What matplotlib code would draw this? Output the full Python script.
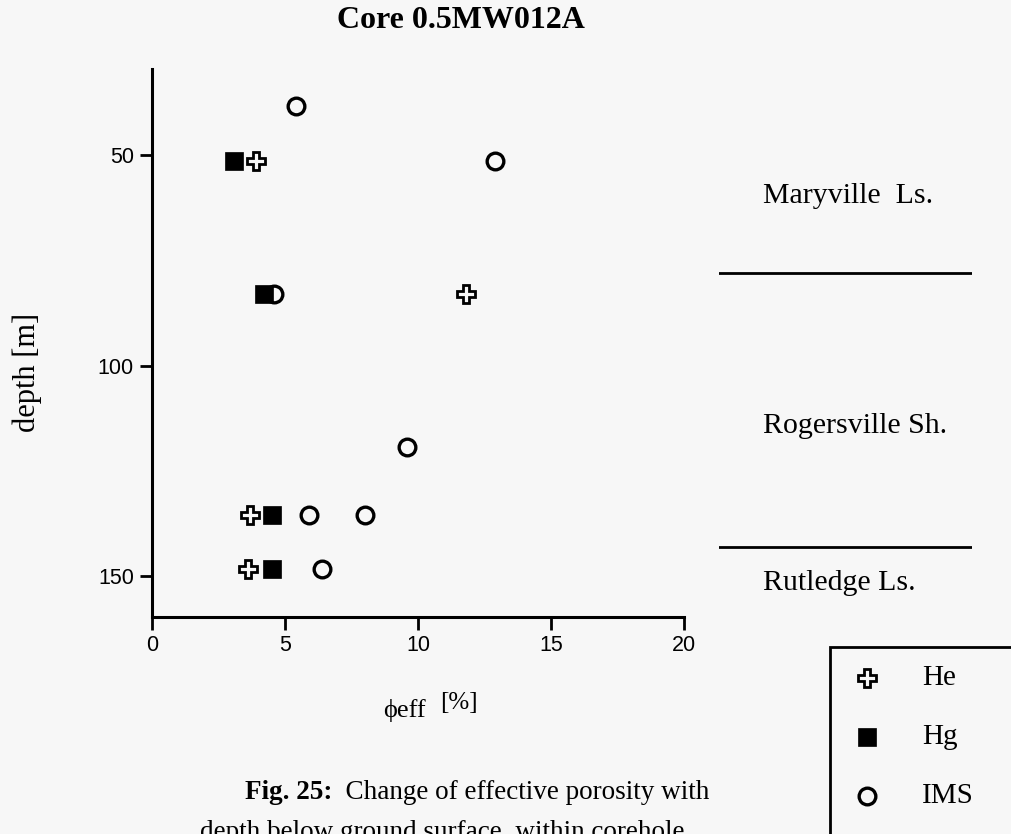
import matplotlib
matplotlib.use("Agg")
import matplotlib.pyplot as plt
from matplotlib.lines import Line2D
from matplotlib.patches import Rectangle

# Effective porosity (%) against depth below ground surface (m)
he_depth = [51.5, 83.0, 135.5, 148.2]
he_phi = [3.9, 11.8, 3.7, 3.6]

hg_depth = [51.5, 83.0, 135.5, 148.2]
hg_phi = [3.1, 4.2, 4.5, 4.5]

ims_depth = [38.5, 51.5, 83.0, 119.3, 135.5, 135.5, 148.2]
ims_phi = [5.4, 12.9, 4.6, 9.6, 5.9, 8.0, 6.4]

# Stratigraphy of the core
formations = ["Maryville  Ls.", "Rogersville Sh.", "Rutledge Ls."]
formation_label_depth = [59.7, 114.3, 151.7]
formation_boundaries = [78.0, 143.0]

x_ticks = [0, 5, 10, 15, 20]
y_ticks = [50, 100, 150]

series_labels = ["He", "Hg", "IMS"]

BG = "#f7f7f7"
SERIF = ["Liberation Serif", "DejaVu Serif"]
SANS = ["Liberation Sans", "DejaVu Sans"]

W, H = 1012, 834
fig = plt.figure(figsize=(W / 100, H / 100), dpi=100, facecolor=BG)


def fx(px):
    return px / W


def fy(py):
    return 1 - py / H


styles = {
    "He": dict(marker="P", ms=13.5, mfc=BG, mec="k", mew=2.0, ls="none"),
    "Hg": dict(marker="s", ms=13, mfc="k", mec="k", mew=0.5, ls="none"),
    "IMS": dict(marker="o", ms=12, mfc="none", mec="k", mew=2.4, ls="none"),
}

ax = fig.add_axes([fx(152), fy(617), fx(684) - fx(152), fy(69) - fy(617)])
ax.set_facecolor(BG)
ax.set_xlim(0, 20)
ax.set_ylim(159.7, 29.6)

ax.plot(ims_phi, ims_depth, zorder=3, **styles["IMS"])
ax.plot(he_phi, he_depth, zorder=4, **styles["He"])
ax.plot(hg_phi, hg_depth, zorder=5, **styles["Hg"])

for side in ("top", "right"):
    ax.spines[side].set_visible(False)
for side in ("left", "bottom"):
    ax.spines[side].set_linewidth(2.2)
ax.set_xticks(x_ticks)
ax.set_yticks(y_ticks)
ax.tick_params(direction="out", length=9, width=2, pad=4, labelsize=15.5)
for lab in ax.get_xticklabels() + ax.get_yticklabels():
    lab.set_family(SANS)

# Formation column on the right, sharing the depth scale
ax2 = fig.add_axes([fx(719), fy(617), fx(972) - fx(719), fy(69) - fy(617)])
ax2.set_ylim(ax.get_ylim())
ax2.set_xlim(0, 1)
ax2.axis("off")
for b in formation_boundaries:
    ax2.plot([0, 1], [b, b], color="k", lw=2)
for name, d in zip(formations, formation_label_depth):
    ax2.text(0.174, d, name, va="center", ha="left", fontsize=21.5, family=SERIF)

# Titles and axis labels
fig.text(fx(461), fy(21), "Core 0.5MW012A", ha="center", va="center",
         fontsize=23, fontweight="bold", family=SERIF)
fig.text(fx(27), fy(372), "depth [m]", rotation=90, ha="center", va="center",
         fontsize=22, family=SERIF)
fig.text(fx(383), fy(717), "\u03d5eff", ha="left", va="baseline",
         fontsize=19, family=SERIF)
fig.text(fx(440), fy(709), "[%]", ha="left", va="baseline",
         fontsize=18, family=SERIF)

# Figure caption
cap1 = fig.text(fx(245), fy(799), "Fig. 25:", ha="left", va="baseline",
                fontsize=19.5, fontweight="bold", family=SERIF)
ax2.annotate("  Change of effective porosity with", xy=(1, 0), xycoords=cap1,
             ha="left", va="bottom", fontsize=19.5, family=SERIF,
             annotation_clip=False)
fig.text(fx(200), fy(839), "depth below ground surface, within corehole",
         ha="left", va="baseline", fontsize=19.5, family=SERIF)

# Legend box
fig.add_artist(Rectangle((fx(830), fy(1000)), fx(1100) - fx(830), fy(647) - fy(1000),
                         transform=fig.transFigure, fill=False, lw=2, ec="k"))
for name, py in zip(series_labels, [678, 737, 796]):
    fig.add_artist(Line2D([fx(867)], [fy(py)], transform=fig.transFigure,
                          **styles[name]))
    fig.text(fx(922), fy(py), name, ha="left", va="center", fontsize=21,
             family=SERIF)

fig.savefig("out.png", dpi=100, facecolor=BG)
